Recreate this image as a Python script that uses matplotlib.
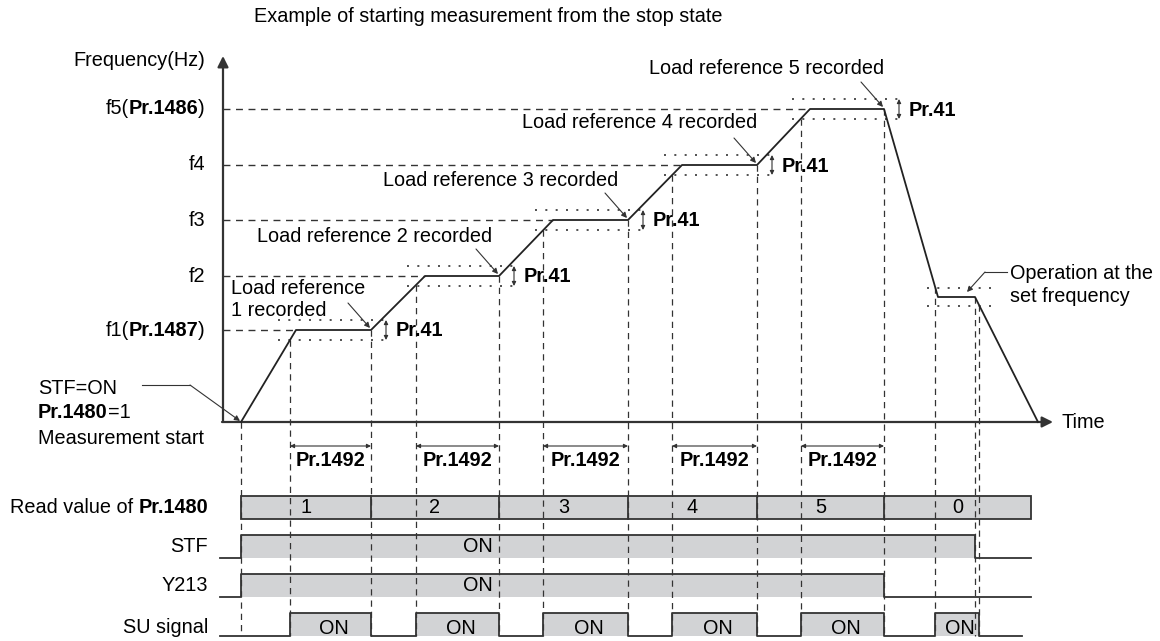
import matplotlib.pyplot as plt
from matplotlib.patches import Rectangle
from matplotlib.offsetbox import TextArea, HPacker, AnnotationBbox
import numpy as np

plt.rcParams['font.family'] = ['Liberation Sans', 'DejaVu Sans']
plt.rcParams['font.size'] = 14.3

# Output frequency during the measurement (time units, frequency units)
trace_t = [0, 55, 130, 184, 258, 312, 387, 441, 516, 569, 643, 697, 734, 797]
trace_f = [0, 92, 92, 146, 146, 202, 202, 257, 257, 313, 313, 125, 125, 0]

levels = [92, 146, 202, 257, 313]
level_names = [[('f1(', 'normal'), ('Pr.1487', 'bold'), (')', 'normal')],
               [('f2', 'normal')], [('f3', 'normal')], [('f4', 'normal')],
               [('f5(', 'normal'), ('Pr.1486', 'bold'), (')', 'normal')]]
plateau_start = [55, 184, 312, 441, 569]
plateau_end = [130, 258, 387, 516, 643]
set_freq = 125
set_start, set_end = 697, 734
band = 10  # Pr.41 up-to-frequency range

# Signals
su_on = [49, 175, 302, 431, 560, 694]
su_off = [130, 258, 387, 516, 643, 738]
stf_on, stf_off = 0, 734
y213_on, y213_off = 0, 643
read_edges = [0, 130, 258, 387, 516, 643, 790]
read_values = ['1', '2', '3', '4', '5', '0']

ref_texts = ['Load reference\n1 recorded', 'Load reference 2 recorded',
             'Load reference 3 recorded', 'Load reference 4 recorded',
             'Load reference 5 recorded']
ref_pos = [(-10, 122), (134, 185), (260, 242), (399, 299), (526, 353)]

LC = '#333333'
GRAY = '#d2d3d5'

fig = plt.figure(figsize=(11.6, 6.41), dpi=100)
ax = fig.add_axes([0, 0, 1, 1])
ax.set_xlim(-241, 919)
ax.set_ylim(-219, 422)
ax.axis('off')


def rich(x, y, parts, ha='left'):
    # text made of normal and bold pieces on one line
    boxes = [TextArea(s, textprops=dict(fontweight=w, fontsize=14.3)) for s, w in parts]
    pack = HPacker(children=boxes, align='baseline', pad=0, sep=0)
    bx = {'left': 0, 'right': 1, 'center': 0.5}[ha]
    ab = AnnotationBbox(pack, (x, y), box_alignment=(bx, 0.5), frameon=False,
                        pad=0, xycoords='data')
    ax.add_artist(ab)


# axes
ax.annotate('', xy=(-18, 366), xytext=(-18, 0),
            arrowprops=dict(arrowstyle='-|>', lw=1.6, color=LC, mutation_scale=16,
                            shrinkA=0, shrinkB=0))
ax.annotate('', xy=(812, 0), xytext=(-19, 0),
            arrowprops=dict(arrowstyle='-|>', lw=1.6, color=LC, mutation_scale=16,
                            shrinkA=0, shrinkB=0))
ax.text(821, 0, 'Time', ha='left', va='center')
ax.text(-36, 362, 'Frequency(Hz)', ha='right', va='center')
ax.text(13, 405, 'Example of starting measurement from the stop state',
        ha='left', va='center')

# frequency trace
ax.plot(trace_t, trace_f, color='#222222', lw=1.3, zorder=4)

# level lines, Pr.41 bands and labels
dotted = (0, (1.2, 5))
for f, name, ts, te in zip(levels, level_names, plateau_start, plateau_end):
    ax.plot([-18, ts], [f, f], color=LC, lw=1, ls=(0, (5, 4)))
    rich(-36, f, name, ha='right')
    for d in (band, -band):
        ax.plot([ts - 18, te + 17], [f + d, f + d], color=LC, lw=1.2, ls=dotted)
    ax.annotate('', xy=(te + 15, f + band), xytext=(te + 15, f - band),
                arrowprops=dict(arrowstyle='<|-|>', lw=0.8, color=LC,
                                mutation_scale=6, shrinkA=0, shrinkB=0))
    ax.text(te + 25, f - 1, 'Pr.41', ha='left', va='center', fontweight='bold')

for d in (band - 1, -band + 1):
    ax.plot([set_start - 11, set_end + 20], [set_freq + d, set_freq + d],
            color=LC, lw=1.2, ls=dotted)

# load reference annotations
for i, (txt, (x, y)) in enumerate(zip(ref_texts, ref_pos)):
    ha = 'left' if i == 0 else 'center'
    ax.text(x, y, txt, ha=ha, va='center', linespacing=1.2)
    te, f = plateau_end[i], levels[i]
    ax.annotate('', xy=(te - 1, f + 2), xytext=(te - 23, f + 27),
                arrowprops=dict(arrowstyle='-|>', lw=0.8, color=LC,
                                mutation_scale=8, shrinkA=0, shrinkB=0))

# start annotation
ax.text(-203, 33, 'STF=ON', ha='left', va='center')
rich(-203, 10, [('Pr.1480', 'bold'), ('=1', 'normal')])
ax.text(-203, -16, 'Measurement start', ha='left', va='center')
ax.plot([-99, -51], [37, 37], color=LC, lw=0.8)
ax.annotate('', xy=(-1, 1), xytext=(-51, 37),
            arrowprops=dict(arrowstyle='-|>', lw=0.8, color=LC,
                            mutation_scale=8, shrinkA=0, shrinkB=0))

# set frequency annotation
ax.text(769, 137, 'Operation at the\nset frequency', ha='left', va='center',
        linespacing=1.25)
ax.plot([766, 744], [150, 150], color=LC, lw=0.8)
ax.annotate('', xy=(726, 130), xytext=(744, 150),
            arrowprops=dict(arrowstyle='-|>', lw=0.8, color=LC,
                            mutation_scale=8, shrinkA=0, shrinkB=0))

# timing rows
READ = (-74, -97)
STF = (-113, -136)
Y213 = (-152, -175)
SU = (-191, -214)

# vertical dashed guides
for t in sorted(set([0] + su_on + su_off + [stf_off])):
    top = np.interp(t, trace_t, trace_f)
    ax.plot([t, t], [top, SU[1]], color=LC, lw=0.9, ls=(0, (5, 4)), zorder=2)

# Pr.1492 intervals
for on, off in zip(su_on[:5], su_off[:5]):
    ax.annotate('', xy=(off, -24), xytext=(on, -24),
                arrowprops=dict(arrowstyle='<|-|>', lw=0.8, color=LC,
                                mutation_scale=6, shrinkA=0, shrinkB=0))
    ax.text((on + off) / 2, -38, 'Pr.1492', ha='center', va='center',
            fontweight='bold')

# read value of Pr.1480
ax.add_patch(Rectangle((read_edges[0], READ[1]), read_edges[-1] - read_edges[0],
                       READ[0] - READ[1], fc=GRAY, ec=LC, lw=1.3, zorder=1))
for e in read_edges[1:-1]:
    ax.plot([e, e], [READ[1], READ[0]], color=LC, lw=1.3, zorder=3)
for a, b, v in zip(read_edges[:-1], read_edges[1:], read_values):
    ax.text((a + b) / 2, sum(READ) / 2, v, ha='center', va='center', zorder=4)


def signal(pulses, row, start, end):
    top, bottom = row
    xs, ys = [start], [bottom]
    for on, off in pulses:
        xs += [on, on, off, off]
        ys += [bottom, top, top, bottom]
        ax.fill_between([on, off], bottom, top, color=GRAY, lw=0, zorder=1)
    xs.append(end)
    ys.append(bottom)
    ax.plot(xs, ys, color=LC, lw=1.3, zorder=3)


signal([(stf_on, stf_off)], STF, -21, 790)
signal([(y213_on, y213_off)], Y213, -21, 790)
signal(list(zip(su_on, su_off)), SU, -21, 781)

ax.text(237, sum(STF) / 2, 'ON', ha='center', va='center', zorder=4)
ax.text(237, sum(Y213) / 2, 'ON', ha='center', va='center', zorder=4)
for on, off in zip(su_on, su_off):
    ax.text((on + off) / 2 + 3, sum(SU) / 2 - 4, 'ON', ha='center', va='center',
            zorder=4)

rich(-33, sum(READ) / 2, [('Read value of\u00a0', 'normal'), ('Pr.1480', 'bold')],
     ha='right')
ax.text(-33, sum(STF) / 2, 'STF', ha='right', va='center')
ax.text(-33, sum(Y213) / 2, 'Y213', ha='right', va='center')
ax.text(-33, sum(SU) / 2 - 3, 'SU signal', ha='right', va='center')

fig.savefig('out.png', dpi=100)
